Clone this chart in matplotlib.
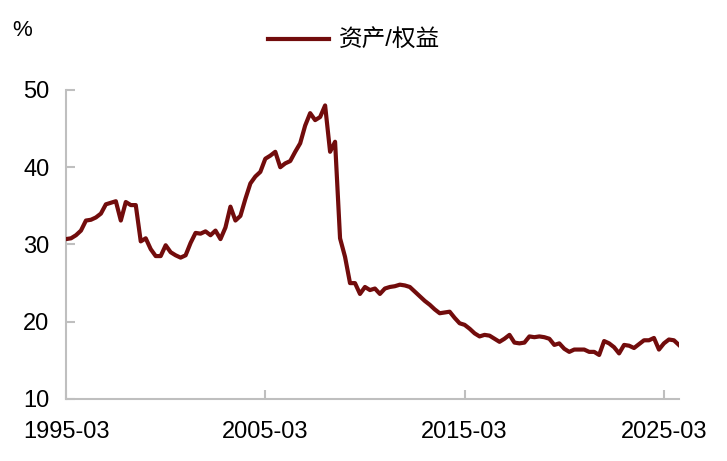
import matplotlib
matplotlib.use('Agg')
import matplotlib.pyplot as plt

plt.rcParams['font.family'] = ['Liberation Sans', 'Noto Sans CJK SC', 'DejaVu Sans']

# quarterly, 1995-03 .. 2025-12
ratio = [
    30.7, 30.8, 31.2, 31.8, 33.1, 33.2, 33.5, 34.0, 35.2, 35.4,
    35.6, 33.1, 35.5, 35.1, 35.1, 30.4, 30.8, 29.4, 28.5, 28.5,
    29.9, 29.0, 28.6, 28.3, 28.6, 30.2, 31.5, 31.4, 31.7, 31.2,
    31.8, 30.7, 32.2, 34.9, 33.1, 33.7, 35.9, 37.9, 38.8, 39.4,
    41.1, 41.5, 42.0, 40.0, 40.5, 40.8, 42.0, 43.1, 45.4, 47.0,
    46.1, 46.5, 48.0, 42.0, 43.3, 30.8, 28.4, 25.0, 25.0, 23.6,
    24.5, 24.1, 24.3, 23.6, 24.3, 24.5, 24.6, 24.8, 24.7, 24.5,
    23.9, 23.3, 22.7, 22.2, 21.6, 21.1, 21.2, 21.3, 20.5, 19.8,
    19.6, 19.1, 18.5, 18.1, 18.3, 18.2, 17.8, 17.4, 17.8, 18.3,
    17.3, 17.2, 17.3, 18.1, 18.0, 18.1, 18.0, 17.8, 17.0, 17.2,
    16.5, 16.1, 16.4, 16.4, 16.4, 16.1, 16.1, 15.7, 17.5, 17.2,
    16.7, 15.9, 17.0, 16.9, 16.6, 17.1, 17.6, 17.6, 17.9, 16.4,
    17.2, 17.7, 17.6, 17.0,
]
tick_pos = [0, 40, 80, 120]
tick_labels = ['1995-03', '2005-03', '2015-03', '2025-03']
y_ticks = [10, 20, 30, 40, 50]

fig = plt.figure(figsize=(7.27, 4.61), dpi=100)
ax = fig.add_axes([0.0908, 0.1345, 0.843, 0.6703])

ax.plot(range(len(ratio)), ratio, color='#720c0c', linewidth=3.0,
        solid_joinstyle='round', label='资产/权益')

ax.set_xlim(0, len(ratio) - 1)
ax.set_ylim(10, 50)
ax.set_xticks(tick_pos)
ax.set_xticklabels(tick_labels)
ax.set_yticks(y_ticks)

for side in ['top', 'right']:
    ax.spines[side].set_visible(False)
for side in ['left', 'bottom']:
    ax.spines[side].set_color('#bfbfbf')
    ax.spines[side].set_linewidth(1.5)
ax.spines['left'].set_zorder(0)

ax.tick_params(axis='both', direction='in', length=6.5, width=1.5,
               color='#bfbfbf', labelsize=17, labelcolor='black')
ax.tick_params(axis='x', pad=16)
ax.tick_params(axis='y', pad=12)

fig.text(0.031, 0.933, '%', fontsize=16, ha='center', va='center')

ax.legend(loc='center', bbox_to_anchor=(0.47, 1.158), frameon=False,
          fontsize=17, handlelength=2.6, handletextpad=0.4)

fig.savefig('out.png', dpi=100)
